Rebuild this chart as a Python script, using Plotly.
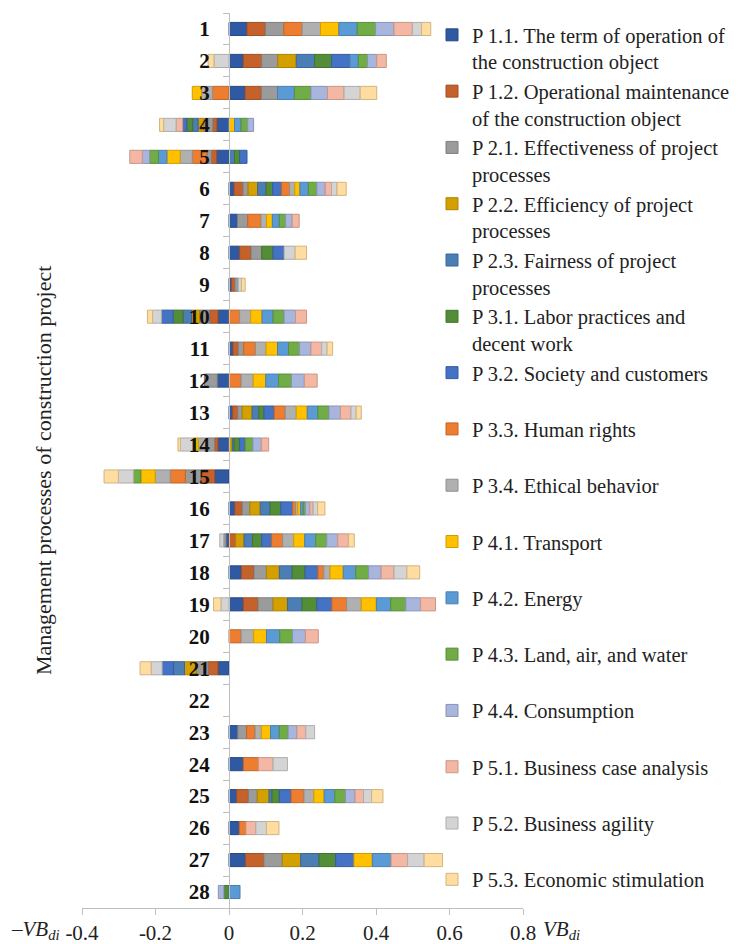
import plotly.graph_objects as go

categories = ["1", "2", "3", "4", "5", "6", "7", "8", "9", "10", "11", "12", "13", "14",
              "15", "16", "17", "18", "19", "20", "21", "22", "23", "24", "25", "26", "27", "28"]

series_names = [
    "P 1.1. The term of operation of<br>the construction object",
    "P 1.2. Operational maintenance<br>of the construction object",
    "P 2.1. Effectiveness of project<br>processes",
    "P 2.2. Efficiency of project<br>processes",
    "P 2.3. Fairness of project<br>processes",
    "P 3.1. Labor practices and<br>decent work",
    "P 3.2. Society and customers<br> ",
    "P 3.3. Human rights<br> ",
    "P 3.4. Ethical behavior<br> ",
    "P 4.1. Transport<br> ",
    "P 4.2. Energy<br> ",
    "P 4.3. Land, air, and water<br> ",
    "P 4.4. Consumption<br> ",
    "P 5.1. Business case analysis<br> ",
    "P 5.2. Business agility<br> ",
    "P 5.3. Economic stimulation",
]

P11 = [.049, .039, .044, -.033, -.034, .014, .023, .029, .007, -.030, .011, -.032, .010, -.030,
       -.039, .016, -.008, .034, .039, 0, -.030, 0, .024, .039, .021, .028, .045, 0]
P12 = [.050, .050, .044, -.011, -.014, .024, 0, .031, .009, -.023, .014, 0, .014, -.009,
       -.038, .020, .018, .034, .040, 0, -.027, 0, 0, 0, .032, 0, .050, 0]
P21 = [.050, .044, .044, -.025, -.012, .014, .028, .029, .009, -.027, .015, -.035, .012, -.020,
       -.042, .021, -.007, .034, .041, 0, -.032, 0, .024, 0, .024, 0, .050, 0]
P22 = [0, .050, 0, -.015, 0, .026, 0, 0, 0, -.022, 0, 0, .027, .009,
       0, .028, .023, .035, .039, 0, -.032, 0, 0, 0, .032, 0, .050, 0]
P23 = [0, .050, 0, -.015, .015, .023, 0, 0, 0, -.023, 0, 0, .018, .005,
       0, .027, .023, .035, .040, 0, -.030, 0, 0, 0, .008, 0, .050, 0]
P31 = [0, .046, 0, -.016, .014, .018, 0, .031, 0, -.027, 0, 0, .014, .015,
       0, .029, .025, .035, .040, 0, 0, 0, 0, 0, .020, 0, .045, -.014]
P32 = [0, .050, 0, -.011, .020, .024, 0, .030, 0, -.032, 0, 0, .028, .015,
       0, .032, .027, .035, .041, 0, -.031, 0, 0, 0, .032, 0, .050, 0]
P33 = [.050, 0, -.045, 0, -.040, .022, .036, 0, 0, .029, .032, .033, .030, 0,
       -.041, .008, .030, .016, .040, .033, 0, 0, .023, .041, .035, .018, 0, 0]
P34 = [.050, 0, -.030, 0, -.033, .014, .015, 0, 0, .030, .029, .033, .030, -.025,
       -.041, .006, .030, .017, .040, .034, 0, 0, .017, 0, .027, 0, 0, 0]
P41 = [.050, 0, -.025, .015, -.036, .014, .016, 0, 0, .031, .031, .034, .030, -.015,
       -.039, .008, .030, .036, .041, .035, 0, 0, .025, 0, .028, 0, .050, 0]
P42 = [.050, .023, .046, .018, -.023, .023, .019, 0, 0, .030, .030, .035, .029, 0,
       0, .007, .030, .034, .039, .036, 0, 0, .024, 0, .029, 0, .051, .030]
P43 = [.050, .025, .045, .018, -.024, .023, .017, 0, 0, .030, .030, .035, .030, .021,
       -.020, .006, .030, .035, .041, .035, 0, 0, .024, 0, .029, 0, 0, 0]
P44 = [.050, .025, .045, .016, -.020, .023, .018, 0, 0, .031, .031, .035, .031, .023,
       0, .012, .030, .034, .040, .035, 0, 0, .024, 0, .026, 0, 0, -.015]
P51 = [.050, .026, .045, -.018, -.034, .017, .019, 0, 0, .030, .029, .035, .029, .020,
       0, .009, .029, .035, .041, .035, 0, 0, .024, .040, .023, .027, .045, 0]
P52 = [.025, -.041, .044, -.034, 0, .015, 0, .030, .009, -.024, .015, 0, .014, -.033,
       -.041, .012, -.010, .035, -.022, 0, -.030, 0, .024, .039, .022, .029, .045, 0]
P53 = [.025, -.016, .045, -.011, 0, .025, 0, .031, .010, -.014, .015, 0, .014, -.007,
       -.039, .020, .016, .035, -.020, 0, -.030, 0, 0, 0, .031, .034, .050, 0]

series_values = [P11, P12, P21, P22, P23, P31, P32, P33, P34, P41, P42, P43, P44, P51, P52, P53]

colors = ["#2F5AA3", "#C5612B", "#9B9B9B", "#D4A000", "#4A7EB4", "#548D38", "#4472C4", "#ED7D31",
          "#B0B0B0", "#FFC000", "#5B9BD5", "#70AD47", "#A8B5DD", "#F4B7A4", "#D4D4D4", "#FFDC9F"]

x_tick_vals = [-0.4, -0.2, 0, 0.2, 0.4, 0.6, 0.8]
x_tick_text = ["-0.4", "-0.2", "0", "0.2", "0.4", "0.6", "0.8"]


def darker(hexcol, f=0.82):
    h = hexcol.lstrip("#")
    r, g, b = (int(h[i:i + 2], 16) for i in (0, 2, 4))
    return "rgb(%d,%d,%d)" % (r * f, g * f, b * f)


fig = go.Figure()
for name, vals, col in zip(series_names, series_values, colors):
    fig.add_trace(go.Bar(
        y=categories,
        x=[v if v != 0 else None for v in vals],
        name=name,
        orientation="h",
        marker=dict(color=col, line=dict(color=darker(col), width=1)),
    ))

FONT = "Liberation Serif, Times New Roman, serif"
ML, MR, MT, MB = 82, 216, 13, 36
W, H = 739, 944
PW = W - ML - MR
PH = H - MT - MB


def px_x(px):
    return (px - ML) / PW


def px_y(py):
    return 1 - (py - MT) / PH


fig.update_layout(
    width=W, height=H,
    margin=dict(l=ML, r=MR, t=MT, b=MB, autoexpand=False),
    barmode="relative",
    bargap=0.59,
    plot_bgcolor="white",
    paper_bgcolor="white",
    font=dict(family=FONT, color="#222222"),
    showlegend=True,
    legend=dict(
        x=px_x(432), xanchor="left",
        y=px_y(15), yanchor="top",
        font=dict(family=FONT, size=20.5, color="#222222"),
        valign="top",
        bgcolor="rgba(0,0,0,0)",
        tracegroupgap=0,
        itemclick=False,
    ),
    xaxis=dict(
        range=[-0.4, 0.8],
        tickvals=x_tick_vals,
        ticktext=x_tick_text,
        showgrid=False,
        zeroline=False,
        showline=True,
        linecolor="#BFBFBF",
        linewidth=1.3,
        ticks="outside",
        ticklen=6,
        tickcolor="#BFBFBF",
        tickwidth=1.3,
        tickfont=dict(family=FONT, size=21, color="#222222"),
        ticklabelstandoff=0,
    ),
    yaxis=dict(
        type="category",
        categoryorder="array",
        categoryarray=categories,
        range=[27.5, -0.5],
        anchor="free",
        position=px_x(ML + PW / 3.0),
        showgrid=False,
        zeroline=False,
        showline=True,
        linecolor="#BFBFBF",
        linewidth=1.3,
        ticks="outside",
        tickson="boundaries",
        ticklen=6,
        tickcolor="#BFBFBF",
        tickwidth=1.3,
        tickfont=dict(family=FONT, size=21, color="#111111", weight="bold"),
        ticklabelstandoff=15,
    ),
    annotations=[
        dict(text="Management processes of construction project", textangle=-90,
             xref="paper", yref="paper", x=px_x(43), y=px_y(471),
             xanchor="center", yanchor="middle", showarrow=False,
             font=dict(family=FONT, size=22, color="#222222")),
        dict(text="<i>–VB<sub>di</sub></i>", xref="paper", yref="paper",
             x=px_x(9), y=px_y(930), xanchor="left", yanchor="middle", showarrow=False,
             font=dict(family=FONT, size=21, color="#222222")),
        dict(text="<i>VB<sub>di</sub></i>", xref="paper", yref="paper",
             x=px_x(541), y=px_y(930), xanchor="left", yanchor="middle", showarrow=False,
             font=dict(family=FONT, size=21, color="#222222")),
    ],
)

fig.write_html("out.html", config={"displayModeBar": False},
               post_script="document.body.style.margin='0';")
